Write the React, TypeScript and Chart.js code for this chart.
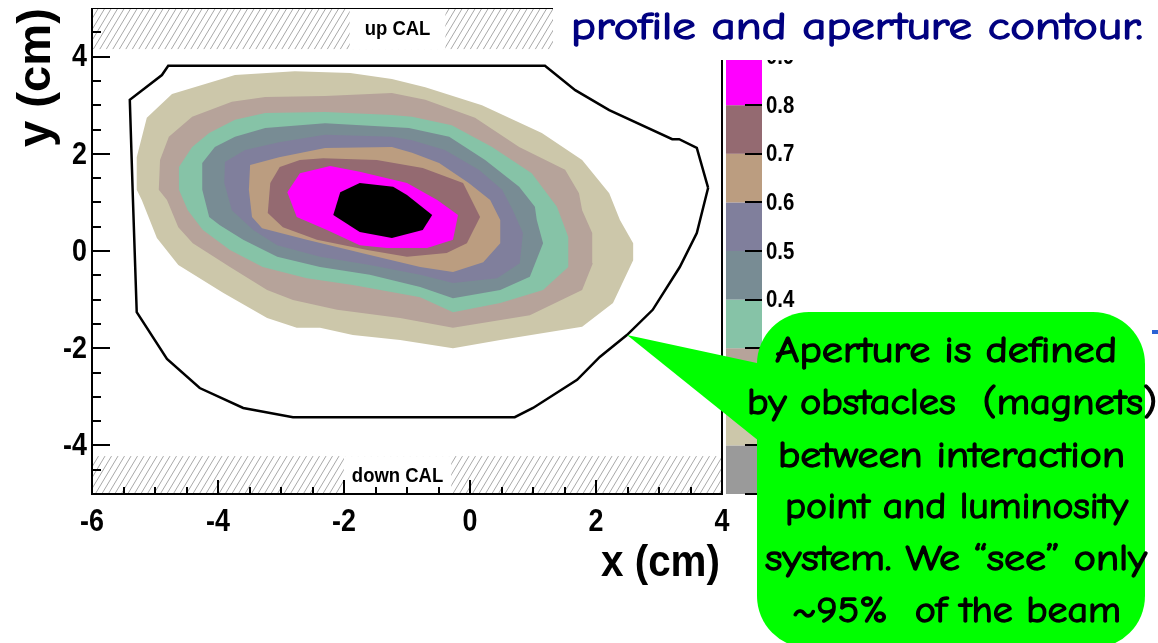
import React, { useEffect, useRef } from 'react';
import Chart from 'chart.js/auto';

// ---- axes ----
const X_RANGE = [-6, 4];
const Y_RANGE = [-5, 5];
const xMajorTicks = [-6, -4, -2, 0, 2, 4];
const yMajorTicks = [-4, -2, 0, 2, 4];
const minorStep = 0.5;

// ---- colour scale ----
const zEdges = [0, 0.1, 0.2, 0.3, 0.4, 0.5, 0.6, 0.7, 0.8, 0.9, 1.0];
const zTickLabels = ['0.1', '0.2', '0.3', '0.4', '0.5', '0.6', '0.7', '0.8', '0.9'];
const bandColors = ['#9a9a9a', '#ccc7aa', '#b6a39a', '#86c3a7', '#788c94', '#807f9c', '#bb9d80', '#946a71', '#ff00ff', '#000000'];

// ---- calorimeter shadow regions (y ranges, cm) ----
const upCalY = [4.15, 5];
const downCalY = [-5, -4.22];
const calLabelX = -1.15;

// ---- contour levels (x, y in cm) ----
const contour01: [number, number][] = [
  [-2.78, 3.70], [-3.73, 3.62], [-4.73, 3.23], [-5.13, 2.74], [-5.29, 1.93], [-5.29, 1.26], [-5.21, 1.05],
  [-4.97, 0.27], [-4.63, -0.29], [-3.92, -0.86], [-3.22, -1.38], [-2.75, -1.58], [-2.38, -1.58], [-1.86, -1.73],
  [-1.11, -1.83], [-0.27, -2.00], [0.48, -1.83], [1.78, -1.56], [2.27, -1.07], [2.59, -0.19], [2.59, 0.16],
  [2.38, 0.64], [2.21, 1.19], [1.78, 1.87], [1.14, 2.43], [0.19, 3.00], [-0.71, 3.37], [-1.24, 3.54], [-1.90, 3.66],
];
const contour02: [number, number][] = [
  [-1.24, 3.25], [-2.30, 3.19], [-3.25, 3.17], [-3.78, 3.07], [-4.41, 2.76], [-4.78, 2.35], [-4.92, 1.87],
  [-4.94, 1.26], [-4.81, 1.05], [-4.63, 0.49], [-4.40, 0.16], [-3.81, -0.33], [-3.22, -0.80], [-2.81, -1.01],
  [-2.11, -1.21], [-1.11, -1.38], [-0.27, -1.58], [0.95, -1.32], [1.78, -0.80], [1.95, -0.25], [1.94, 0.37],
  [1.78, 0.84], [1.73, 1.19], [1.51, 1.67], [0.78, 2.14], [0.08, 2.74], [-0.71, 3.11],
];
const contour03: [number, number][] = [
  [-1.24, 2.80], [-2.30, 2.86], [-3.25, 2.84], [-3.73, 2.70], [-4.14, 2.43], [-4.41, 2.14], [-4.62, 1.73],
  [-4.62, 1.26], [-4.48, 0.84], [-4.24, 0.43], [-3.81, 0.02], [-3.29, -0.33], [-2.59, -0.56], [-1.86, -0.70],
  [-0.79, -0.95], [-0.27, -1.26], [0.48, -1.07], [1.16, -0.80], [1.56, -0.33], [1.56, 0.29], [1.38, 0.91],
  [0.98, 1.60], [0.35, 2.14], [-0.29, 2.59], [-0.92, 2.76],
];
const contour04: [number, number][] = [
  [-1.24, 2.55], [-2.30, 2.63], [-3.25, 2.53], [-3.73, 2.35], [-4.05, 2.14], [-4.25, 1.81], [-4.25, 1.26],
  [-4.14, 0.70], [-3.97, 0.53], [-3.60, 0.23], [-3.06, -0.12], [-2.38, -0.33], [-1.59, -0.49], [-0.79, -0.74],
  [-0.27, -0.97], [0.48, -0.80], [0.95, -0.53], [1.16, 0.16], [1.06, 0.64], [1.03, 0.91], [0.78, 1.32],
  [0.24, 1.87], [-0.33, 2.35], [-0.97, 2.53],
];
const contour05: [number, number][] = [
  [-1.24, 2.35], [-2.30, 2.39], [-3.03, 2.24], [-3.57, 2.08], [-3.89, 1.83], [-3.90, 1.40], [-3.78, 0.84],
  [-3.44, 0.43], [-3.06, 0.12], [-2.38, -0.12], [-1.59, -0.29], [-0.79, -0.49], [-0.27, -0.66], [0.43, -0.56],
  [0.79, -0.25], [0.84, 0.37], [0.68, 0.84], [0.51, 1.26], [0.14, 1.67], [-0.40, 2.08], [-0.92, 2.28],
];
const contour06: [number, number][] = [
  [-1.24, 2.14], [-2.30, 2.12], [-3.03, 1.93], [-3.49, 1.77], [-3.51, 1.26], [-3.46, 0.70], [-3.30, 0.47],
  [-2.59, 0.23], [-1.59, -0.08], [-0.79, -0.33], [-0.27, -0.43], [0.21, -0.23], [0.48, 0.16], [0.48, 0.64],
  [0.32, 1.05], [-0.02, 1.40], [-0.49, 1.81], [-0.92, 2.02],
];
const contour07: [number, number][] = [
  [-2.70, 1.87], [-3.02, 1.73], [-3.17, 1.40], [-3.21, 0.78], [-2.97, 0.49], [-2.43, 0.23], [-1.63, 0.02],
  [-1.00, -0.12], [-0.37, -0.04], [-0.05, 0.16], [0.16, 0.70], [-0.11, 1.40], [-0.75, 1.71], [-1.48, 1.87],
  [-2.33, 1.91],
];
const contour08: [number, number][] = [
  [-2.22, 1.75], [-2.70, 1.60], [-2.90, 1.21], [-2.75, 0.70], [-2.27, 0.43], [-1.75, 0.12], [-1.32, 0.06],
  [-0.68, 0.06], [-0.27, 0.23], [-0.19, 0.74], [-0.52, 1.05], [-1.00, 1.40], [-1.75, 1.63],
];
const contour09: [number, number][] = [
  [-2.06, 1.21], [-1.75, 1.40], [-1.22, 1.32], [-1.00, 1.15], [-0.60, 0.74], [-0.75, 0.43], [-1.24, 0.27],
  [-1.75, 0.39], [-2.17, 0.74],
];
const contours = [contour01, contour02, contour03, contour04, contour05, contour06, contour07, contour08, contour09];

// ---- aperture contour (cm) ----
const aperture: [number, number][] = [
  [3.78, 1.30], [3.60, 0.37], [3.33, -0.33], [2.90, -1.21], [2.49, -1.73], [2.06, -2.18], [1.70, -2.65],
  [1.00, -3.23], [0.71, -3.42], [-2.81, -3.42], [-3.60, -3.23], [-4.29, -2.82], [-4.81, -2.22], [-5.29, -1.26],
  [-5.35, 1.05], [-5.40, 3.11], [-4.89, 3.62], [-4.79, 3.81], [1.19, 3.81], [1.67, 3.31], [2.21, 2.90],
  [3.21, 2.30], [3.32, 2.30], [3.60, 2.12],
];

// ---- texts ----
const titleText = 'profile and aperture contour.';
const calloutLines = [
  'Aperture is defined',
  'by obstacles  (magnets)',
  'between interaction',
  'point and luminosity',
  'system. We \u201csee\u201d only',
  '~95%  of the beam',
];

const W = 1158;
const H = 643;
const AXIS_FONT = '"Liberation Sans", Arial, Helvetica, sans-serif';
const COMIC_FONT = '"Comic Sans MS", "Comic Neue", "Noto Sans", "DejaVu Sans", sans-serif';

function fitText(ctx: CanvasRenderingContext2D, text: string, left: number, right: number, y: number, font: string, color: string, stroke: number) {
  ctx.save();
  ctx.font = font;
  ctx.fillStyle = color;
  ctx.strokeStyle = color;
  ctx.lineWidth = stroke;
  ctx.lineJoin = 'round';
  ctx.textAlign = 'left';
  ctx.textBaseline = 'alphabetic';
  const w = ctx.measureText(text).width;
  const sx = (right - left) / w;
  ctx.translate(left, y);
  ctx.scale(sx, 1);
  ctx.fillText(text, 0, 0);
  if (stroke > 0) ctx.strokeText(text, 0, 0);
  ctx.restore();
}

function narrowText(ctx: CanvasRenderingContext2D, text: string, x: number, y: number, font: string, align: CanvasTextAlign, sx: number) {
  ctx.save();
  ctx.font = font;
  ctx.fillStyle = '#000';
  ctx.textAlign = align;
  ctx.textBaseline = 'middle';
  ctx.translate(x, y);
  ctx.scale(sx, 1);
  ctx.fillText(text, 0, 0);
  ctx.restore();
}

function hatch(ctx: CanvasRenderingContext2D, x0: number, y0: number, x1: number, y1: number) {
  ctx.save();
  ctx.beginPath();
  ctx.rect(x0, y0, x1 - x0, y1 - y0);
  ctx.clip();
  ctx.strokeStyle = '#a8a8a8';
  ctx.lineWidth = 1;
  const h = y1 - y0;
  const slant = h * 0.6;
  ctx.beginPath();
  for (let x = x0 - slant; x < x1 + slant; x += 6.5) {
    ctx.moveTo(x, y1);
    ctx.lineTo(x + slant, y0);
  }
  ctx.stroke();
  ctx.restore();
}

const decorPlugin = {
  id: 'decor',
  beforeDatasetsDraw(chart: any) {
    const ctx: CanvasRenderingContext2D = chart.ctx;
    const xs = chart.scales.x;
    const ys = chart.scales.y;
    const l = xs.getPixelForValue(X_RANGE[0]);
    const r = xs.getPixelForValue(X_RANGE[1]);
    const uTop = ys.getPixelForValue(upCalY[1]);
    const uBot = ys.getPixelForValue(upCalY[0]);
    hatch(ctx, l, uTop, r, uBot);
    const dTop = ys.getPixelForValue(downCalY[1]);
    const dBot = ys.getPixelForValue(downCalY[0]);
    hatch(ctx, l, dTop, r, dBot);
    const cx = xs.getPixelForValue(calLabelX);
    const f = 'bold 21px ' + AXIS_FONT;
    ctx.save();
    ctx.font = f;
    const wu = ctx.measureText('up CAL').width * 0.88 + 30;
    const wd = ctx.measureText('down CAL').width * 0.88 + 16;
    ctx.fillStyle = '#fff';
    ctx.fillRect(cx - wu / 2, uTop + 1, wu, uBot - uTop - 1);
    ctx.fillRect(cx - wd / 2, dTop, wd, dBot - dTop - 1);
    ctx.restore();
    narrowText(ctx, 'up CAL', cx, (uTop + uBot) / 2 + 1, f, 'center', 0.88);
    narrowText(ctx, 'down CAL', cx, (dTop + dBot) / 2 + 1, f, 'center', 0.88);
  },
  afterDatasetsDraw(chart: any) {
    const ctx: CanvasRenderingContext2D = chart.ctx;
    const xs = chart.scales.x;
    const ys = chart.scales.y;
    const { left, right, top, bottom } = chart.chartArea;
    ctx.save();
    ctx.strokeStyle = '#000';
    ctx.lineWidth = 1;
    ctx.beginPath();
    ctx.moveTo(left, top + 0.5);
    ctx.lineTo(right, top + 0.5);
    ctx.stroke();
    ctx.lineWidth = 2;
    ctx.beginPath();
    ctx.moveTo(left, top);
    ctx.lineTo(left, bottom);
    ctx.lineTo(right, bottom);
    ctx.lineTo(right, top);
    ctx.stroke();
    ctx.lineWidth = 2;
    ctx.beginPath();
    for (let v = Y_RANGE[0] + minorStep; v < Y_RANGE[1] - 1e-6; v += minorStep) {
      const py = Math.round(ys.getPixelForValue(v));
      const major = yMajorTicks.some((t) => Math.abs(t - v) < 1e-6);
      ctx.moveTo(left, py);
      ctx.lineTo(left + (major ? 18 : 9), py);
    }
    for (let v = X_RANGE[0] + minorStep; v < X_RANGE[1] - 1e-6; v += minorStep) {
      const px = Math.round(xs.getPixelForValue(v));
      const major = xMajorTicks.some((t) => Math.abs(t - v) < 1e-6);
      ctx.moveTo(px, bottom);
      ctx.lineTo(px, bottom - (major ? 14 : 7));
    }
    ctx.stroke();
    ctx.restore();
    const tf = 'bold 32px ' + AXIS_FONT;
    for (const t of yMajorTicks) {
      narrowText(ctx, String(t), left - 5, ys.getPixelForValue(t) + 1, tf, 'right', 0.84);
    }
    for (const t of xMajorTicks) {
      narrowText(ctx, String(t), xs.getPixelForValue(t), bottom + 28, tf, 'center', 0.84);
    }
    ctx.save();
    ctx.font = 'bold 44px ' + AXIS_FONT;
    ctx.fillStyle = '#000';
    ctx.textBaseline = 'middle';
    const wx = ctx.measureText('x (cm)').width;
    ctx.translate(right - 2 - 119, bottom + 70);
    ctx.scale(119 / wx, 1);
    ctx.textAlign = 'left';
    ctx.fillText('x (cm)', 0, 0);
    ctx.restore();
    ctx.save();
    ctx.font = 'bold 46px ' + AXIS_FONT;
    ctx.fillStyle = '#000';
    ctx.textBaseline = 'middle';
    const wy = ctx.measureText('y (cm)').width;
    ctx.translate(37, top);
    ctx.rotate(-Math.PI / 2);
    ctx.scale(139 / wy, 1);
    ctx.textAlign = 'right';
    ctx.fillText('y (cm)', 0, 0);
    ctx.restore();
  },
  afterDraw(chart: any) {
    const ctx: CanvasRenderingContext2D = chart.ctx;
    const zs = chart.scales.z;
    const cbL = 726;
    const cbR = 762;
    ctx.save();
    for (let i = 0; i < bandColors.length; i++) {
      const y0 = zs.getPixelForValue(zEdges[i + 1]);
      const y1 = zs.getPixelForValue(zEdges[i]);
      ctx.fillStyle = bandColors[i];
      ctx.fillRect(cbL, y0, cbR - cbL, y1 - y0);
    }
    ctx.strokeStyle = '#000';
    ctx.lineWidth = 2;
    ctx.beginPath();
    for (const v of zEdges) {
      const py = Math.round(zs.getPixelForValue(v));
      ctx.moveTo(cbR - 17, py);
      ctx.lineTo(cbR, py);
    }
    ctx.stroke();
    ctx.restore();
    for (const lab of zTickLabels) {
      narrowText(ctx, lab, cbR + 4, zs.getPixelForValue(parseFloat(lab)) + 1, 'bold 24px ' + AXIS_FONT, 'left', 0.85);
    }
    ctx.save();
    ctx.fillStyle = '#fff';
    ctx.fillRect(553, 0, W - 553, 60);
    ctx.restore();
    fitText(ctx, titleText, 571, 1143, 39, '38px ' + COMIC_FONT, '#000080', 1.3);
    ctx.save();
    ctx.fillStyle = '#2a62d4';
    ctx.fillRect(1152, 330, 6, 4);
    ctx.fillStyle = '#00ff00';
    ctx.beginPath();
    ctx.moveTo(627, 335);
    ctx.lineTo(780, 368);
    ctx.lineTo(795, 470);
    ctx.closePath();
    ctx.fill();
    const bx = 757, by = 312, bw = 1145 - 757, bh = 648 - 312, rr = 52;
    ctx.beginPath();
    ctx.moveTo(bx + rr, by);
    ctx.lineTo(bx + bw - rr, by);
    ctx.arcTo(bx + bw, by, bx + bw, by + rr, rr);
    ctx.lineTo(bx + bw, by + bh - rr);
    ctx.arcTo(bx + bw, by + bh, bx + bw - rr, by + bh, rr);
    ctx.lineTo(bx + rr, by + bh);
    ctx.arcTo(bx, by + bh, bx, by + bh - rr, rr);
    ctx.lineTo(bx, by + rr);
    ctx.arcTo(bx, by, bx + rr, by, rr);
    ctx.closePath();
    ctx.fill();
    ctx.restore();
    const spans: [number, number, number][] = [
      [775, 1117, 362], [747, 1157, 414], [778, 1125, 467], [785, 1128, 518], [765, 1147, 570], [792, 1121, 622],
    ];
    calloutLines.forEach((t, i) => {
      const [a, b, y] = spans[i];
      fitText(ctx, t, a, b, y, '37px ' + COMIC_FONT, '#000', 1.3);
    });
  },
};

export default function App() {
  const ref = useRef<HTMLCanvasElement | null>(null);
  useEffect(() => {
    if (!ref.current) return;
    const toXY = (pts: [number, number][]) => pts.concat([pts[0]]).map(([x, y]) => ({ x, y }));
    const datasets: any[] = contours.map((pts, i) => ({
      label: 'z>' + zTickLabels[i],
      data: toXY(pts),
      xAxisID: 'x',
      yAxisID: 'y',
      backgroundColor: bandColors[i + 1],
      borderColor: 'rgba(0,0,0,0)',
      borderWidth: 0,
      pointRadius: 0,
      tension: 0,
      fill: 'shape',
      order: 20 - i,
    }));
    datasets.push({
      label: 'aperture',
      data: toXY(aperture),
      xAxisID: 'x',
      yAxisID: 'y',
      borderColor: '#000',
      borderWidth: 2.5,
      pointRadius: 0,
      tension: 0,
      fill: false,
      order: 0,
    });
    const chart = new Chart(ref.current, {
      type: 'line',
      data: { datasets },
      options: {
        responsive: false,
        animation: false,
        devicePixelRatio: 1,
        events: [],
        layout: { padding: { left: 92, top: 8, right: W - 722, bottom: H - 494 } },
        scales: {
          x: { type: 'linear', min: X_RANGE[0], max: X_RANGE[1], display: false },
          y: { type: 'linear', min: Y_RANGE[0], max: Y_RANGE[1], display: false },
          z: { type: 'linear', axis: 'y', min: 0, max: 1, display: false },
        },
        plugins: { legend: { display: false }, tooltip: { enabled: false } },
      } as any,
      plugins: [decorPlugin],
    });
    return () => chart.destroy();
  }, []);
  return (
    <div style={{ position: 'fixed', left: 0, top: 0, width: W, height: H, background: '#fff' }}>
      <canvas ref={ref} width={W} height={H} style={{ display: 'block', width: W, height: H }} />
    </div>
  );
}
